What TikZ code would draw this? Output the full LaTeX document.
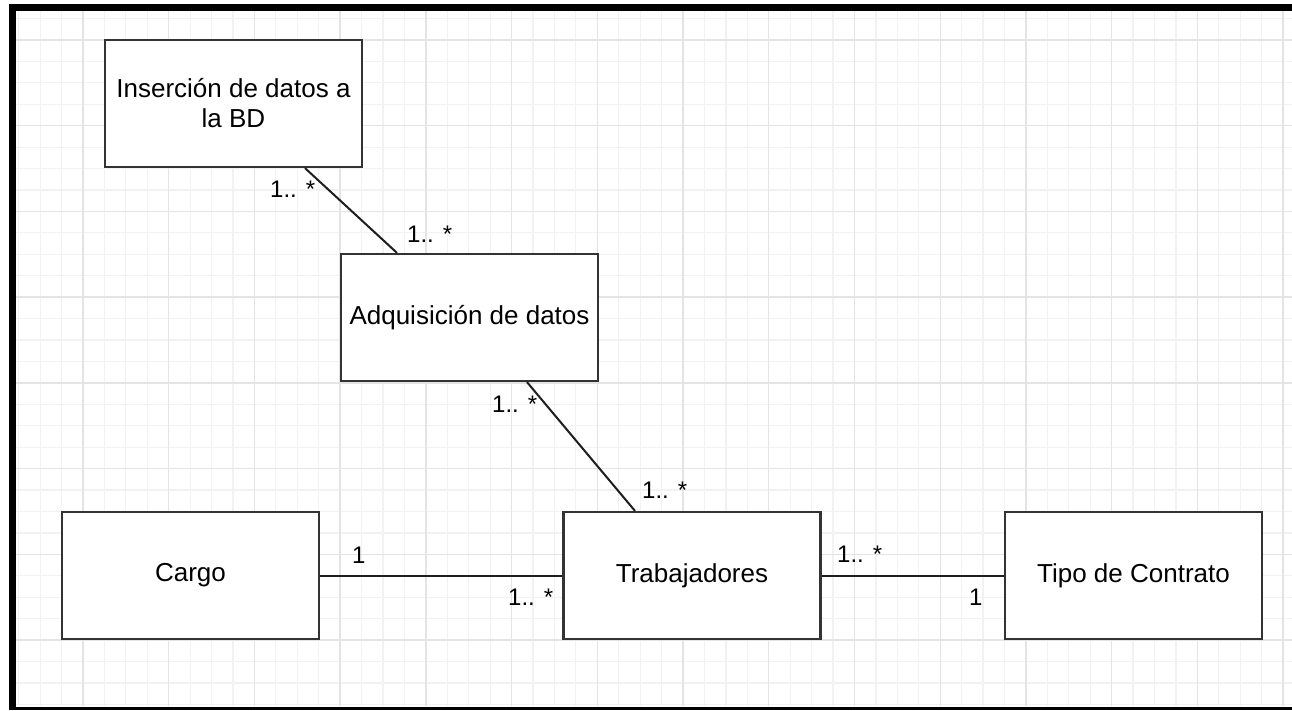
\documentclass[tikz,border=0pt]{standalone}
\usepackage{fontspec}
\setmainfont{Liberation Sans}
\definecolor{gridminor}{HTML}{F2F2F2}
\definecolor{gridmajor}{HTML}{E4E4E4}
\definecolor{boxline}{HTML}{333333}
\definecolor{edgeline}{HTML}{1E1E1E}
\tikzset{
  cls/.style={draw=boxline, line width=2.2pt, fill=white, minimum width=257pt, minimum height=127pt, inner sep=0pt, font=\fontsize{26}{30}\selectfont, align=center},
  mult/.style={anchor=base west, inner sep=0pt, font=\fontsize{24}{28}\selectfont},
  assoc/.style={draw=edgeline, line width=2pt},
}
\begin{document}
\begin{tikzpicture}[x=1pt,y=-1pt]
\useasboundingbox (0,0) rectangle (1292,710);
\fill[white] (0,0) rectangle (1292,710);
% grid
\foreach \k in {-3,...,56}{
  \pgfmathsetmacro\xx{83+21.43*\k}
  \draw[gridminor, line width=1.2pt] (\xx,11) -- (\xx,706);
}
\foreach \k in {-1,...,31}{
  \pgfmathsetmacro\yy{40+21.43*\k}
  \draw[gridminor, line width=1.2pt] (16,\yy) -- (1292,\yy);
}
\foreach \k in {0,...,14}{
  \pgfmathsetmacro\xx{83+85.72*\k}
  \draw[gridmajor, line width=1.4pt] (\xx,11) -- (\xx,706);
}
\foreach \k in {0,...,7}{
  \pgfmathsetmacro\yy{40+85.72*\k}
  \draw[gridmajor, line width=1.4pt] (16,\yy) -- (1292,\yy);
}
% frame
\fill[black] (9,4) rectangle (1292,11);
\fill[black] (9,4) rectangle (16,710);
\fill[black] (9,706.5) rectangle (1292,710);
% classes
\node[cls] (ins) at (233.5,103.5) {Inserción de datos a\\la BD};
\node[cls] (adq) at (469.5,317.5) {Adquisición de datos};
\node[cls] (cargo) at (190.5,575.5) {Cargo};
\node[cls] (trab) at (692,575.5) {Trabajadores};
\node[cls] (tipo) at (1133.5,575.5) {Tipo de Contrato};
% associations
\draw[assoc] ([xshift=71.5pt]ins.south) -- ([xshift=-72.5pt]adq.north);
\draw[assoc] ([xshift=57.5pt]adq.south) -- ([xshift=-57pt]trab.north);
\draw[assoc] (cargo.east) -- (trab.west);
\draw[assoc] (trab.east) -- (tipo.west);
% multiplicities
\node[mult] (m1) at (270,197) {1.. *};
\node[mult] (m2) at (407,242) {1.. *};
\node[mult] (m3) at (492,412) {1.. *};
\node[mult] (m4) at (642,498) {1.. *};
\node[mult] (m5) at (352,563) {1};
\node[mult] (m6) at (508,605) {1.. *};
\node[mult] (m7) at (837,562) {1.. *};
\node[mult] (m8) at (969,605) {1};
\end{tikzpicture}
\end{document}
